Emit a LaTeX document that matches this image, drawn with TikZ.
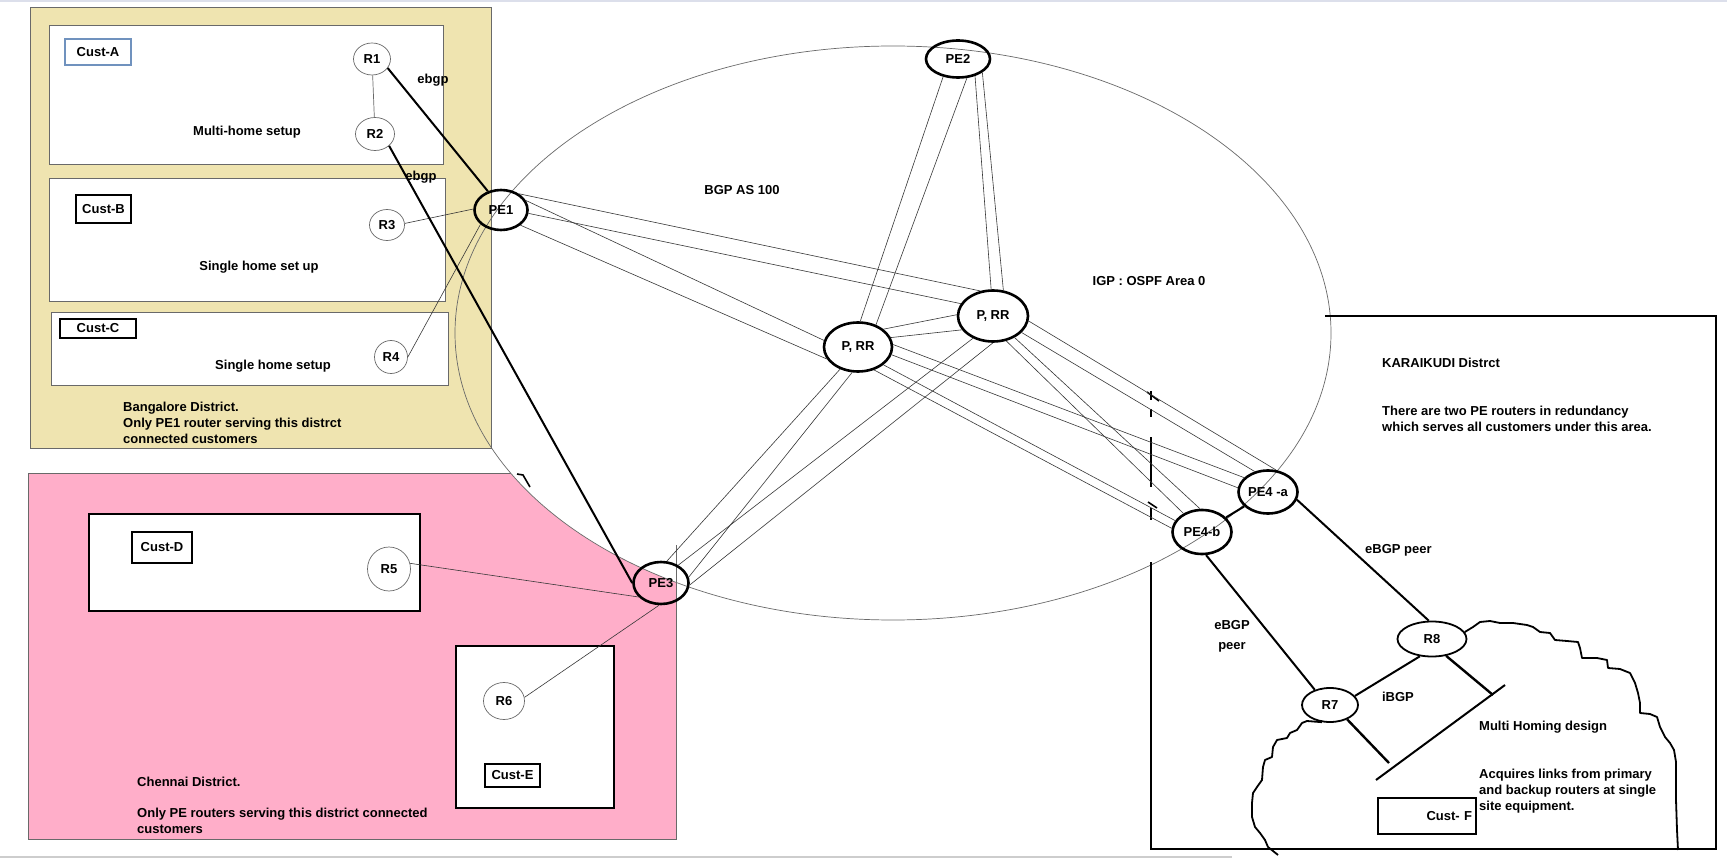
\documentclass[tikz,border=0pt]{standalone}
\usepackage{fontspec}
\setmainfont{Liberation Sans}
\usetikzlibrary{shapes.geometric}
\definecolor{tanfill}{RGB}{239,228,176}
\definecolor{rosefill}{RGB}{255,174,201}
\definecolor{bluegray}{RGB}{112,146,190}
\definecolor{linkc}{RGB}{55,55,55}
\definecolor{framec}{RGB}{105,105,105}
\definecolor{topc}{RGB}{220,223,235}
\definecolor{botc}{RGB}{205,205,205}
\begin{document}
\begin{tikzpicture}[x=1pt,y=-1pt,
  every node/.style={font=\fontsize{13}{16}\selectfont\bfseries, inner sep=0pt},
  pe/.style={ellipse, draw=black, line width=2.6pt},
  rtr/.style={ellipse, draw=framec, line width=0.7pt},
  cer/.style={ellipse, draw=black, line width=1.8pt},
  link/.style={draw=linkc, line width=0.6pt},
  heavy/.style={draw=black, line width=2pt},
  custbox/.style={draw=framec, line width=1pt, fill=white},
  blackbox/.style={draw=black, line width=2pt, fill=white},
  tag/.style={draw=black, line width=2pt, fill=white},
  txt/.style={anchor=west, align=left},
  edgeln/.style={draw=black, line width=2pt},
]
\useasboundingbox (0,0) rectangle (1727,858);
\fill[white] (0,0) rectangle (1727,858);
\fill[topc] (0,0) rectangle (1727,2);
\fill[botc] (0,855.5) rectangle (1232,858);

% Chennai district (pink)
\draw[framec, line width=1pt, fill=rosefill] (28,473) rectangle (676,839);
% big AS ellipse fill
\fill[white] (893,333) ellipse [x radius=438, y radius=287];
\draw[framec, line width=1pt] (676,545) -- (676,839);
\draw[black, line width=1.6pt] (517,474) -- (523,475) -- (530,487);

% Bangalore district (tan)
\draw[framec, line width=1pt, fill=tanfill] (30,8) rectangle (491,448);
\draw[custbox] (49,26) rectangle (443,165);
\draw[custbox] (49,179) rectangle (445,302);
\draw[custbox] (51,313) rectangle (448,386);

% big ellipse outline
\draw[framec, line width=0.7pt] (893,333) ellipse [x radius=438, y radius=287];

% Karaikudi district frame
\draw[edgeln] (1325,316) -- (1716,316) -- (1716,849) -- (1151,849) -- (1151,562);
\draw[edgeln] (1151,508) -- (1151,520);
\draw[edgeln] (1151,437) -- (1151,487);
\draw[edgeln] (1151,409) -- (1151,417);
\draw[edgeln] (1151,391) -- (1151,400);
\draw[black, line width=1.6pt] (1147,392) -- (1159,401);
\draw[black, line width=1.6pt] (1148,502) -- (1157,508);

% Chennai customer boxes
\draw[blackbox] (89,514) rectangle (420,611);
\draw[blackbox] (456,646) rectangle (614,808);

% customer tags
\node[draw=bluegray, line width=1.5pt, fill=white, minimum width=66pt, minimum height=26pt] (tagA) at (98,52) {Cust-A};
\node[tag, minimum width=55pt, minimum height=28pt] (tagB) at (103.5,209) {Cust-B};
\node[tag, minimum width=76pt, minimum height=19pt] (tagC) at (98,328.5) {Cust-C};
\node[tag, minimum width=60pt, minimum height=31pt] (tagD) at (162,547.5) {Cust-D};
\node[tag, minimum width=55pt, minimum height=23pt] (tagE) at (512.5,775.5) {Cust-E};
\node[tag, minimum width=98pt, minimum height=36pt, text width=90pt, align=right] (tagF) at (1427,816) {Cust- F};

% routers
\node[rtr, minimum width=37pt, minimum height=32pt] (R1) at (372,59) {R1};
\node[rtr, minimum width=39pt, minimum height=33pt] (R2) at (375,134) {R2};
\node[rtr, minimum width=35pt, minimum height=31pt] (R3) at (387,225) {R3};
\node[rtr, minimum width=33pt, minimum height=33pt] (R4) at (391,357) {R4};
\node[rtr, minimum width=43pt, minimum height=44pt] (R5) at (389,569) {R5};
\node[rtr, minimum width=41pt, minimum height=37pt] (R6) at (504,701) {R6};
\node[pe, minimum width=53pt, minimum height=40pt] (PE1) at (501,210) {PE1};
\node[pe, minimum width=64pt, minimum height=37pt] (PE2) at (958,59) {PE2};
\node[pe, minimum width=70pt, minimum height=51pt] (PRRr) at (993,316) {P, RR};
\node[pe, minimum width=68pt, minimum height=49pt] (PRRl) at (858,347) {P, RR};
\node[pe, minimum width=55pt, minimum height=42pt] (PE3) at (661,583) {PE3};
\node[pe, minimum width=59pt, minimum height=43pt] (PE4a) at (1268,492) {PE4 -a};
\node[pe, minimum width=59pt, minimum height=44pt] (PE4b) at (1202,532) {PE4-b};
\node[cer, minimum width=69pt, minimum height=35pt] (R8) at (1432,639) {R8};
\node[cer, minimum width=56pt, minimum height=34pt] (R7) at (1330,705) {R7};

% customer links
\draw[draw=framec, line width=0.7pt] (R1) -- (R2);
\draw[link] (R3.5) -- (PE1.178);
\draw[link] (R4.0) -- (PE1.215);
\draw[link] (R5.15) -- (PE3.212);
\draw[link] (R6.10) -- (PE3.265);
\draw[heavy] (R1.-30) -- (PE1.125);
\draw[heavy] (R2.-40) -- (PE3.180);

% core mesh (double links)
\draw[link] (PE1.42) -- (PRRr.117);
\draw[link] (PE1.-7) -- (PRRr.159);
\draw[link] (PE1.21) -- (PRRl.169);
\draw[link] (PE1.-38) -- (PRRl.201);
\draw[link] (PE2.230) -- (PRRl.85);
\draw[link] (PE2.295) -- (PRRl.51);
\draw[link] (PE2.315) -- (PRRr.94);
\draw[link] (PE2.331) -- (PRRr.68);
\draw[link] (PRRl.35) -- (PRRr.178);
\draw[link] (PRRl.16) -- (PRRr.204);
\draw[link] (PRRl.231) -- (PE3.75);
\draw[link] (PRRl.257) -- (PE3.12);
\draw[link] (PRRr.228) -- (PE3.46);
\draw[link] (PRRr.270) -- (PE3.356);
\draw[link] (PRRr.-8) -- (PE4a.70);
\draw[link] (PRRr.-30) -- (PE4a.123);
\draw[link] (PRRr.-45) -- (PE4b.95);
\draw[link] (PRRr.-62) -- (PE4b.135);
\draw[link] (PRRl.4) -- (PE4a.149);
\draw[link] (PRRl.-13) -- (PE4a.172);
\draw[link] (PRRl.-35) -- (PE4b.157);
\draw[link] (PRRl.-55) -- (PE4b.173);

% Karaikudi links
\draw[heavy] (PE4a) -- (PE4b);
\draw[heavy] (PE4a.-15) -- (R8.100);
\draw[heavy] (PE4b.-80) -- (R7.135);
\draw[heavy] (R7.20) -- (R8.235);
\coordinate (s1) at (1389,763);
\coordinate (s2) at (1493,695);
\coordinate (m1) at (1376,780);
\coordinate (m2) at (1505,685);
\draw[black, line width=2.4pt] (R7.-40) -- (s1);
\draw[black, line width=2.4pt] (R8.-50) -- (s2);
\draw[heavy] (m1) -- (m2);

% cloud
\draw[black, line width=1.8pt, line join=round]
 (R8.12) -- (1473,627) -- (1480,622) -- (1490,621) -- (1500,623) -- (1513,623) -- (1527,625) -- (1533,627)
 -- (1540,632) -- (1550,633) -- (1555,640) -- (1567,641) -- (1578,642) -- (1580,648) -- (1582,658)
 -- (1597,658) -- (1607,660) -- (1608,668) -- (1620,669) -- (1630,673) -- (1635,683) -- (1638,693)
 -- (1640,703) -- (1640,713) -- (1650,714) -- (1657,717) -- (1660,727) -- (1665,737) -- (1670,743)
 -- (1674,750) -- (1676,762) -- (1676,800) -- (1677,830) -- (1678,850);
\draw[black, line width=1.8pt, line join=round]
 (R7.-115) -- (1307,721) -- (1302,723) -- (1297,730) -- (1290,733) -- (1287,738) -- (1277,740)
 -- (1273,747) -- (1272,757) -- (1265,760) -- (1263,767) -- (1262,780) -- (1257,787) -- (1253,793)
 -- (1252,803) -- (1252,817) -- (1255,827) -- (1260,833) -- (1265,840) -- (1268,847) -- (1278,855);

% labels
\node at (247,132) {Multi-home setup};
\node at (433,80) {ebgp};
\node at (421,177) {ebgp};
\node at (259,267) {Single home set up};
\node at (273,366) {Single home setup};
\node[txt] at (123,423) {Bangalore District.\\Only PE1 router serving this distrct\\connected customers};
\node at (742,190) {BGP AS 100};
\node at (1149,281) {IGP : OSPF Area 0};
\node[txt] at (1382,363) {KARAIKUDI Distrct};
\node[txt] at (1382,419) {There are two PE routers in redundancy\\which serves all customers under this area.};
\node[txt] at (1365,550) {eBGP peer};
\node[align=center, font=\fontsize{13}{20}\selectfont\bfseries] at (1232,636) {eBGP\\peer};
\node at (1398,697) {iBGP};
\node[txt] at (1479,727) {Multi Homing design};
\node[txt] at (1479,791) {Acquires links from primary\\and backup routers at single\\site equipment.};
\node[txt] at (137,782) {Chennai District.};
\node[txt] at (137,821) {Only PE routers serving this district connected\\customers};
\end{tikzpicture}
\end{document}
